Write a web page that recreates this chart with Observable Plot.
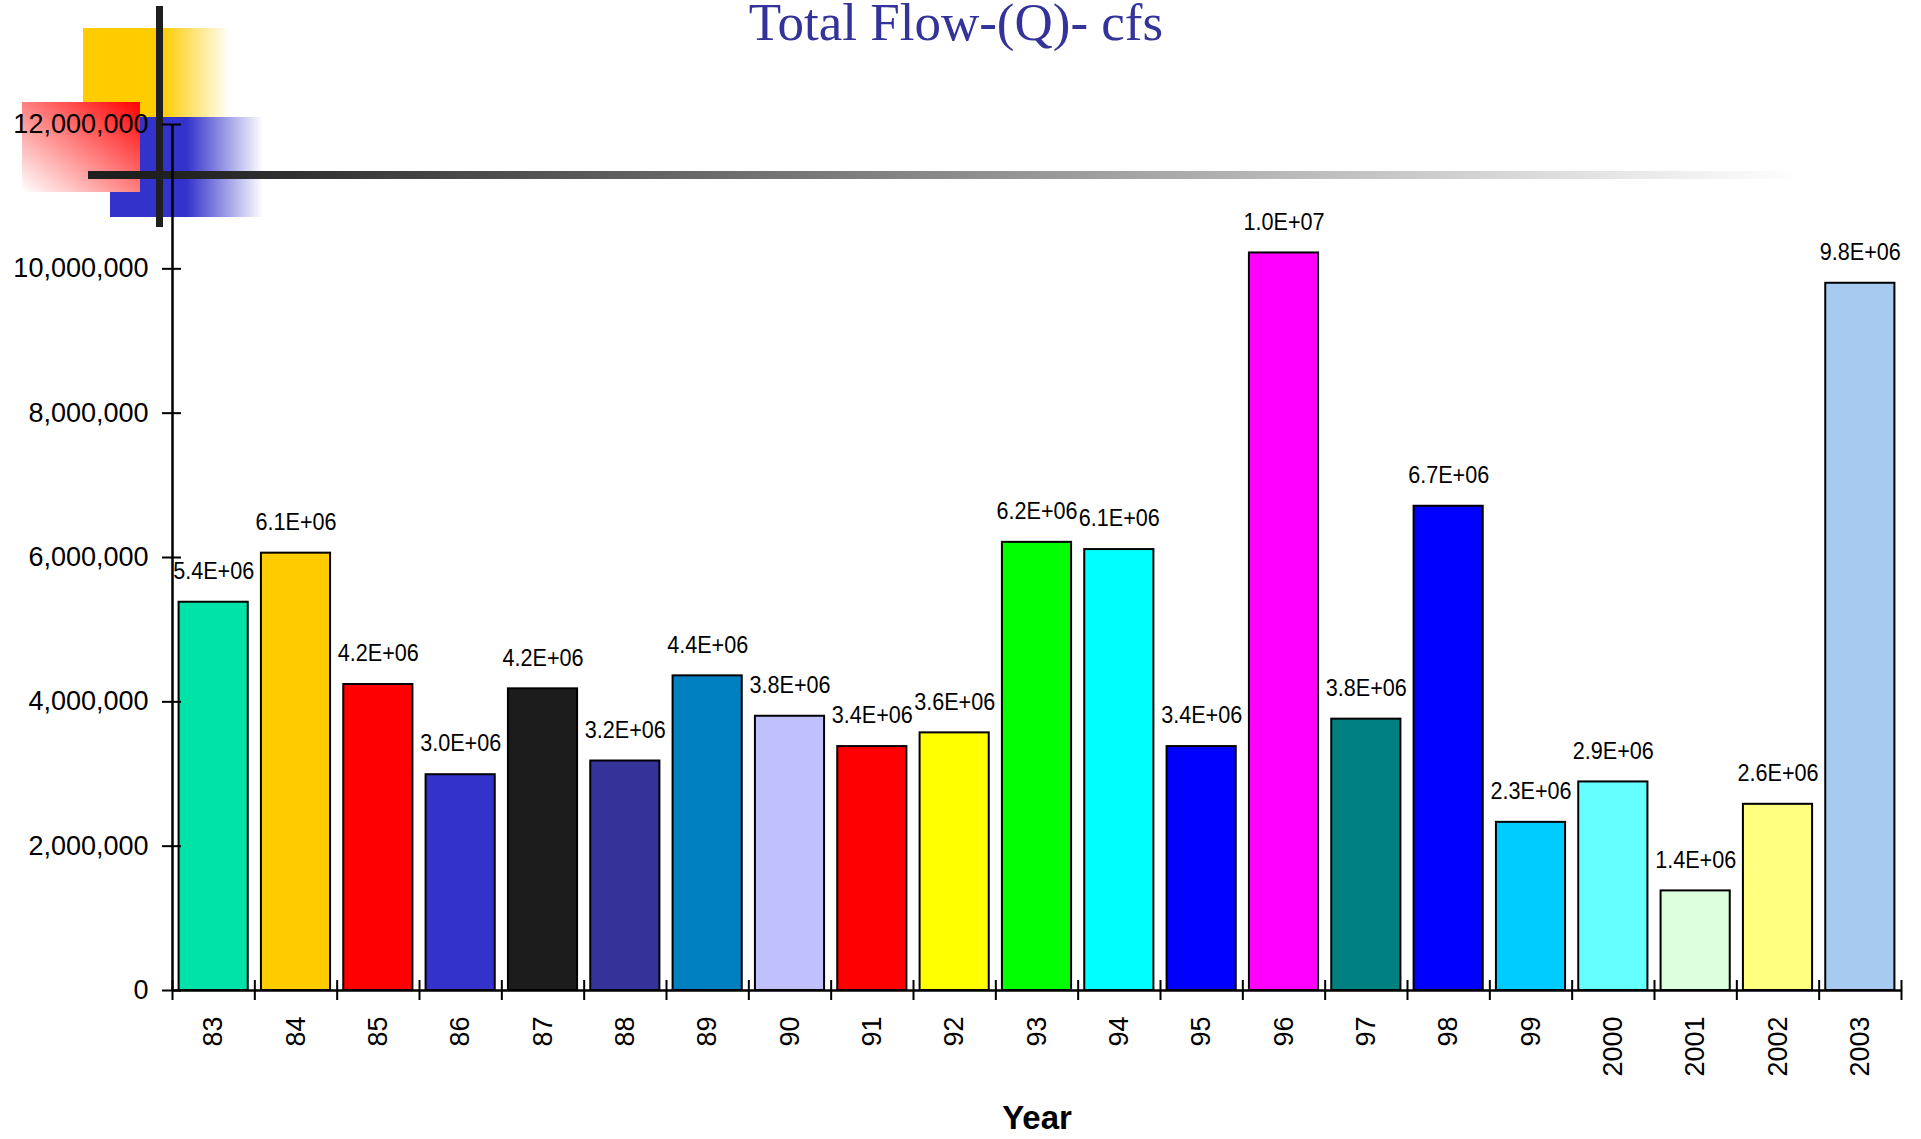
<!DOCTYPE html>
<html>
<head>
<meta charset="utf-8">
<script src="https://cdn.jsdelivr.net/npm/d3@7"></script>
<script src="https://cdn.jsdelivr.net/npm/@observablehq/plot@0.6"></script>
<style>
  html, body { margin: 0; padding: 0; background: #fff; }
  #page { position: relative; width: 1921px; height: 1139px; overflow: hidden; }
  .deco { position: absolute; }
  #yellow { left: 83px; top: 28px; width: 147px; height: 89px;
    background: linear-gradient(to right, #FFCC00 0%, #FFCC00 54%, #ffffff 100%); }
  #blue { left: 110px; top: 117px; width: 153px; height: 100px;
    background: linear-gradient(to right, #3333CC 0%, #3333CC 50%, #ffffff 100%); }
  #red { left: 22px; top: 102px; width: 118px; height: 90px;
    background: linear-gradient(to bottom left, #FF0000 0%, #ffffff 100%); }
  #vbar { left: 156px; top: 6px; width: 7px; height: 221px; background: #1f1f1f; }
  #hbar { left: 88px; top: 171px; width: 1712px; height: 8px;
    background: linear-gradient(to right, #1f1f1f 0%, #1f1f1f 4%, #ffffff 100%); }
  #chart { position: absolute; left: 0; top: 0; }
  #title { position: absolute; left: 0; top: 0; width: 1912px; text-align: center;
    font-family: "Liberation Serif", "Times New Roman", serif; font-size: 53px; line-height: 44px;
    color: #333399; }
</style>
</head>
<body>
<div id="page">
  <div class="deco" id="yellow"></div>
  <div class="deco" id="blue"></div>
  <div class="deco" id="red"></div>
  <div class="deco" id="hbar"></div>
  <div class="deco" id="vbar"></div>
  <div id="chart"></div>
  <div id="title">Total Flow-(Q)- cfs</div>
</div>
<script>
// Annual total flow (cfs), water years 1983–2003
const years = ["83", "84", "85", "86", "87", "88", "89", "90", "91", "92", "93",
               "94", "95", "96", "97", "98", "99", "2000", "2001", "2002", "2003"];
const flows = [5380000, 6060000, 4240000, 2990000, 4180000, 3180000, 4360000, 3800000,
               3380000, 3570000, 6210000, 6110000, 3380000, 10220000, 3760000, 6710000,
               2330000, 2890000, 1380000, 2580000, 9800000];
const barColors = ["#00E3A8", "#FFCC00", "#FF0000", "#3333CC", "#1C1C1C", "#333399", "#0080C0",
                   "#C0C0FF", "#FF0000", "#FFFF00", "#00FF00", "#00FFFF", "#0000FF", "#FF00FF",
                   "#008080", "#0000FF", "#00CCFF", "#66FFFF", "#DDFFDD", "#FFFF80", "#A6CAF0"];
const yTicks = [0, 2000000, 4000000, 6000000, 8000000, 10000000, 12000000];

const rows = years.map((year, i) => ({i, year, flow: flows[i], color: barColors[i]}));

// Spreadsheet-style scientific label, e.g. 5.4E+06
function sci(v) {
  const [m, e] = v.toExponential(1).split("e");
  return m + "E" + e[0] + String(Math.abs(+e)).padStart(2, "0");
}

const chart = Plot.plot({
  width: 1921,
  height: 1139,
  marginLeft: 172,
  marginRight: 20,
  marginTop: 124,
  marginBottom: 149,
  style: {fontFamily: "'Liberation Sans', Arial, sans-serif", fontSize: "27px", color: "#000", background: "transparent", overflow: "visible"},
  x: {type: "linear", domain: [0, years.length], axis: null},
  y: {domain: [0, 12000000], axis: null},
  color: {type: "identity"},
  marks: [
    Plot.rectY(rows, {
      x1: d => d.i + 0.08, x2: d => d.i + 0.92, y: "flow",
      fill: "color", stroke: "#000", strokeWidth: 2
    }),
    Plot.text(rows, {
      x: d => d.i + 0.5, y: "flow", text: d => sci(d.flow),
      dy: -31, fontSize: 24, fill: "#000", className: "value-labels"
    }),
    // value axis
    Plot.ruleX([0], {y1: 0, y2: 12000000, stroke: "#000", strokeWidth: 2.5}),
    Plot.axisY({
      ticks: yTicks, tickSize: 19, dx: 9, tickPadding: 14,
      tickFormat: d3.format(","), label: null, strokeWidth: 2, stroke: "#000"
    }),
    // category axis: boundary ticks and rotated year labels
    Plot.ruleY([0], {x1: 0, x2: years.length, stroke: "#000", strokeWidth: 2.5}),
    Plot.axisX({
      ticks: d3.range(years.length + 1), tickSize: 20, dy: -10,
      tickFormat: () => "", label: null, strokeWidth: 2, stroke: "#000"
    }),
    Plot.axisX({
      ticks: d3.range(years.length).map(i => i + 0.5), tickSize: 0, tickPadding: 26,
      tickRotate: -90, tickFormat: d => years[Math.floor(d)], label: null
    }),
    Plot.text(["Year"], {
      frameAnchor: "bottom", dy: 138, text: d => d,
      fontSize: 33, fontWeight: "bold", fill: "#000"
    })
  ]
});

// Value labels use a narrow face: compress each label horizontally about its anchor
d3.select(chart).selectAll(".value-labels text").attr("transform", function () {
  return (this.getAttribute("transform") || "") + " scale(0.9,1)";
});

document.getElementById("chart").appendChild(chart);
</script>
</body>
</html>
